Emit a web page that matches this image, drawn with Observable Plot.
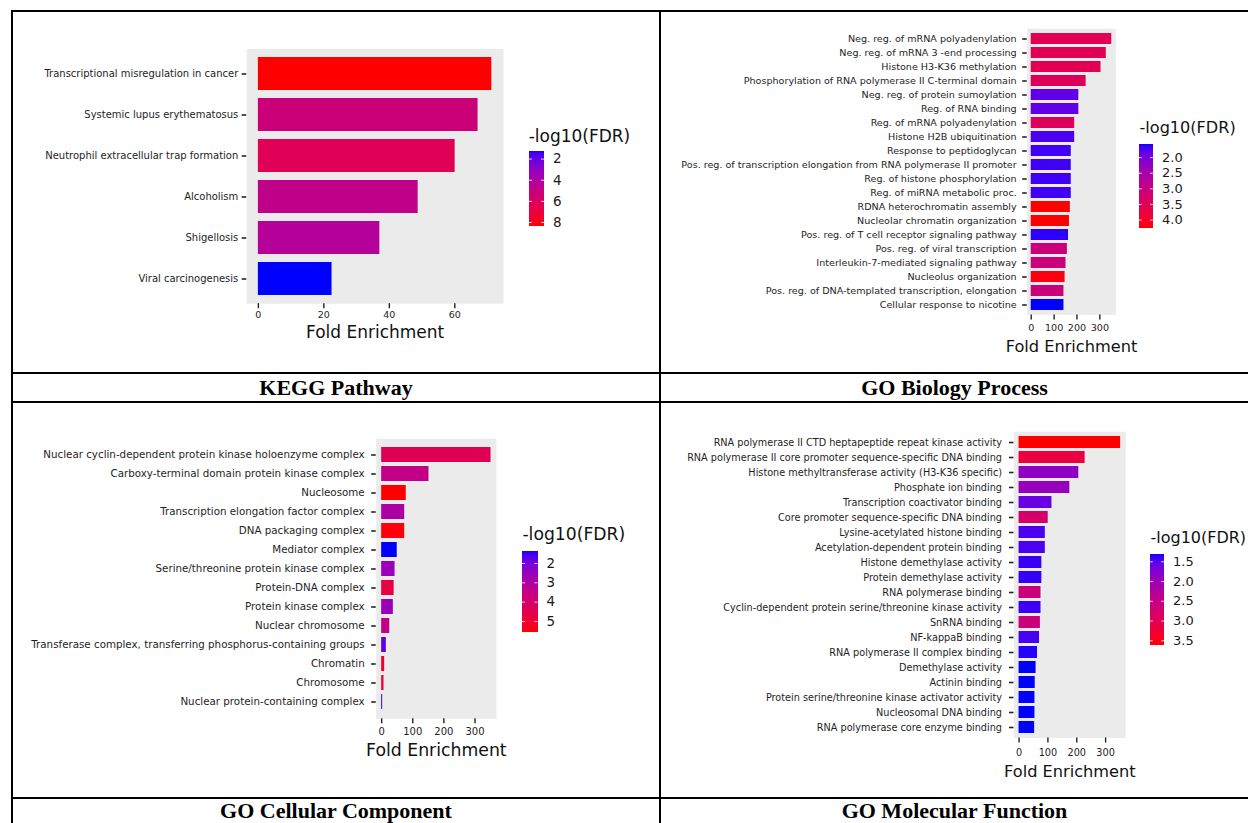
<!DOCTYPE html>
<html>
<head>
<meta charset="utf-8">
<script src="https://cdn.jsdelivr.net/npm/d3@7"></script>
<script src="https://cdn.jsdelivr.net/npm/@observablehq/plot@0.6"></script>
<style>
  html, body { margin: 0; padding: 0; background: #fff; }
  #page { position: relative; width: 1248px; height: 823px; overflow: hidden; background: #fff; }
  .rule { position: absolute; background: #000; }
  .caption { position: absolute; text-align: center; font-family: "Liberation Serif", "Times New Roman", serif;
             font-weight: bold; font-size: 22px; color: #000; }
  #page svg { position: absolute; overflow: visible; }
</style>
</head>
<body>
<div id="page"></div>
<script>
// ---- KEGG pathway enrichment ----
const keggTerms = [
  "Transcriptional misregulation in cancer",
  "Systemic lupus erythematosus",
  "Neutrophil extracellular trap formation",
  "Alcoholism",
  "Shigellosis",
  "Viral carcinogenesis"
];
const keggFold = [71.3, 67.1, 60.1, 48.8, 37.1, 22.5];
const keggFdr = [8.35, 5.3, 6.4, 4.8, 4.3, 1.28];
const keggXTicks = [0, 20, 40, 60];
const keggLegendTicks = [2, 4, 6, 8];

// ---- GO biological process ----
const bpTerms = [
  "Neg. reg. of mRNA polyadenylation",
  "Neg. reg. of mRNA 3 -end processing",
  "Histone H3-K36 methylation",
  "Phosphorylation of RNA polymerase II C-terminal domain",
  "Neg. reg. of protein sumoylation",
  "Reg. of RNA binding",
  "Reg. of mRNA polyadenylation",
  "Histone H2B ubiquitination",
  "Response to peptidoglycan",
  "Pos. reg. of transcription elongation from RNA polymerase II promoter",
  "Reg. of histone phosphorylation",
  "Reg. of miRNA metabolic proc.",
  "RDNA heterochromatin assembly",
  "Nucleolar chromatin organization",
  "Pos. reg. of T cell receptor signaling pathway",
  "Pos. reg. of viral transcription",
  "Interleukin-7-mediated signaling pathway",
  "Nucleolus organization",
  "Pos. reg. of DNA-templated transcription, elongation",
  "Cellular response to nicotine"
];
const bpFold = [352, 328, 305, 240, 208, 208, 190, 190, 175, 175, 175, 175, 171, 167, 163, 158, 152, 148, 143, 143];
const bpFdr = [3.55, 3.55, 3.55, 3.5, 1.85, 1.85, 3.45, 1.75, 1.7, 1.7, 1.7, 1.7, 4.27, 4.27, 1.65, 3.1, 3.1, 4.2, 3.1, 1.59];
const bpXTicks = [0, 100, 200, 300];
const bpLegendTicks = [2.0, 2.5, 3.0, 3.5, 4.0];

// ---- GO cellular component ----
const ccTerms = [
  "Nuclear cyclin-dependent protein kinase holoenzyme complex",
  "Carboxy-terminal domain protein kinase complex",
  "Nucleosome",
  "Transcription elongation factor complex",
  "DNA packaging complex",
  "Mediator complex",
  "Serine/threonine protein kinase complex",
  "Protein-DNA complex",
  "Protein kinase complex",
  "Nuclear chromosome",
  "Transferase complex, transferring phosphorus-containing groups",
  "Chromatin",
  "Chromosome",
  "Nuclear protein-containing complex"
];
const ccFold = [351.5, 152, 79, 74, 74, 50, 43, 40, 37.5, 26, 15, 9.6, 7.5, 3.2];
const ccFdr = [4.4, 3.55, 5.57, 3.0, 5.5, 1.4, 2.6, 4.75, 2.6, 3.5, 1.8, 5.0, 5.0, 1.5];
const ccXTicks = [0, 100, 200, 300];
const ccLegendTicks = [2, 3, 4, 5];

// ---- GO molecular function ----
const mfTerms = [
  "RNA polymerase II CTD heptapeptide repeat kinase activity",
  "RNA polymerase II core promoter sequence-specific DNA binding",
  "Histone methyltransferase activity (H3-K36 specific)",
  "Phosphate ion binding",
  "Transcription coactivator binding",
  "Core promoter sequence-specific DNA binding",
  "Lysine-acetylated histone binding",
  "Acetylation-dependent protein binding",
  "Histone demethylase activity",
  "Protein demethylase activity",
  "RNA polymerase binding",
  "Cyclin-dependent protein serine/threonine kinase activity",
  "SnRNA binding",
  "NF-kappaB binding",
  "RNA polymerase II complex binding",
  "Demethylase activity",
  "Actinin binding",
  "Protein serine/threonine kinase activator activity",
  "Nucleosomal DNA binding",
  "RNA polymerase core enzyme binding"
];
const mfFold = [352, 229, 207, 176, 114, 101, 91, 91, 79, 79, 76, 76, 74, 71, 64, 59, 56, 55, 55, 54];
const mfFdr = [3.61, 3.2, 1.9, 1.95, 1.6, 2.75, 1.47, 1.47, 1.4, 1.4, 2.6, 1.42, 2.6, 1.45, 1.36, 1.33, 1.33, 1.33, 1.33, 1.33];
const mfXTicks = [0, 100, 200, 300];
const mfLegendTicks = [1.5, 2.0, 2.5, 3.0, 3.5];

const captions = ["KEGG Pathway", "GO Biology Process", "GO Cellular Component", "GO Molecular Function"];
const xTitle = "Fold Enrichment";
const legendTitle = "-log10(FDR)";

// ---- page layout (pixel geometry of the grid and each panel) ----
const page = document.getElementById("page");
const FONT = "DejaVu Sans";

function rule(x, y, w, h) {
  const d = document.createElement("div");
  d.className = "rule";
  Object.assign(d.style, {left: x + "px", top: y + "px", width: w + "px", height: h + "px"});
  page.appendChild(d);
}
// table grid lines
rule(11, 10, 1237, 2);
rule(11, 10, 2, 813);
rule(659, 10, 2, 813);
rule(11, 372, 1237, 2);
rule(11, 401, 1237, 2);
rule(11, 797, 1237, 2);

function caption(text, x0, x1, y0, y1) {
  const d = document.createElement("div");
  d.className = "caption";
  Object.assign(d.style, {left: x0 + "px", width: (x1 - x0) + "px", top: y0 + "px",
    height: (y1 - y0) + "px", lineHeight: (y1 - y0) + "px"});
  d.textContent = text;
  page.appendChild(d);
}
caption(captions[0], 13, 659, 374, 401);
caption(captions[1], 661, 1248, 374, 401);
caption(captions[2], 13, 659, 799, 822);
caption(captions[3], 661, 1248, 799, 822);

function place(svg, left, top) {
  svg.style.left = left + "px";
  svg.style.top = top + "px";
  page.appendChild(svg);
}

function drawPanel(terms, fold, fdr, xTicks, legendTicks, legendFormat, g) {
  const rows = terms.map((term, i) => ({term, fold: fold[i], fdr: fdr[i]}));
  const maxFold = d3.max(fold);
  const [lo, hi] = d3.extent(fdr);
  const color = {type: "linear", domain: [lo, hi], range: ["blue", "red"], interpolate: "lab"};

  const width = g.px1 + 4 - g.left;
  const height = g.titleY + 14 - g.top;
  const chart = Plot.plot({
    width, height,
    marginLeft: g.px0 - g.left,
    marginRight: width - (g.px1 - g.left),
    marginTop: g.py0 - g.top,
    marginBottom: height - (g.py1 - g.top),
    style: {fontFamily: FONT, background: "transparent", color: "#222"},
    x: {domain: [-0.05 * maxFold, 1.05 * maxFold], label: null},
    y: {domain: terms, padding: 0.2, label: null},
    color,
    marks: [
      Plot.frame({fill: "#EBEBEB", stroke: "none"}),
      Plot.barX(rows, {y: "term", x: "fold", fill: "fdr"}),
      Plot.axisY({tickSize: 4.5, tickPadding: g.yPad, fontSize: g.yFont, label: null,
        stroke: "#222", strokeWidth: 1.6, fill: "#1e1e1e"}),
      Plot.axisX(xTicks, {tickSize: 5, tickPadding: g.xPad, fontSize: g.xFont, label: null,
        stroke: "#222", strokeWidth: 1.4, fill: "#1e1e1e"}),
      Plot.text([xTitle], {frameAnchor: "bottom", dy: g.titleY - g.py1, lineAnchor: "middle",
        fontSize: g.titleFont, fill: "#111"})
    ]
  });
  place(chart, g.left, g.top);

  // colour bar legend
  const L = g.legend;
  const barW = L.barRight - L.barLeft;
  const lTop = L.titleY - 14;
  const lWidth = Math.max(L.labelLeft - L.barLeft + 30, L.titleLeft - L.barLeft + 110);
  const n = 80;
  const samples = d3.range(n).map(i => [lo + (hi - lo) * i / n, lo + (hi - lo) * (i + 1) / n]);
  const legend = Plot.plot({
    width: lWidth,
    height: L.barBottom + 4 - lTop,
    marginLeft: 0,
    marginRight: lWidth - barW,
    marginTop: L.barTop - lTop,
    marginBottom: 4,
    style: {fontFamily: FONT, background: "transparent", color: "#1a1a1a"},
    y: {domain: [lo, hi], reverse: true, label: null},
    color,
    marks: [
      Plot.rect(samples, {y1: d => d[0], y2: d => d[1], fill: d => (d[0] + d[1]) / 2,
        insetTop: -0.3, insetBottom: -0.3, shapeRendering: "crispEdges"}),
      Plot.tickY(legendTicks, {y: d => d, stroke: "white", strokeWidth: 0.8, insetRight: barW * 0.8}),
      Plot.tickY(legendTicks, {y: d => d, stroke: "white", strokeWidth: 0.8, insetLeft: barW * 0.8}),
      Plot.axisY(legendTicks, {anchor: "right", tickSize: 0, tickPadding: L.labelLeft - L.barRight,
        fontSize: L.labelFont, tickFormat: d3.format(legendFormat), label: null, fill: "#1a1a1a"}),
      Plot.text([legendTitle], {frameAnchor: "top-left", dx: L.titleLeft - L.barLeft, dy: L.titleY - L.barTop,
        textAnchor: "start", lineAnchor: "middle", fontSize: L.titleFont, fill: "#111"})
    ]
  });
  place(legend, L.barLeft, lTop);
}

drawPanel(keggTerms, keggFold, keggFdr, keggXTicks, keggLegendTicks, "d", {
  left: 13, top: 12, px0: 246.2, px1: 503.0, py0: 48.5, py1: 303.2,
  yFont: 10, yPad: 3.9, xFont: 9.5, xPad: 2.8, titleFont: 17, titleY: 331.7,
  legend: {titleLeft: 528.2, titleY: 136, titleFont: 17, barLeft: 529, barRight: 544,
    barTop: 151, barBottom: 225.7, labelLeft: 552.6, labelFont: 13.5}
});
drawPanel(bpTerms, bpFold, bpFdr, bpXTicks, bpLegendTicks, ".1f", {
  left: 661, top: 12, px0: 1026.7, px1: 1115.3, py0: 28.4, py1: 314.4,
  yFont: 9.6, yPad: 6, xFont: 9.6, xPad: 4.2, titleFont: 16.2, titleY: 346.7,
  legend: {titleLeft: 1139.2, titleY: 126.7, titleFont: 16.1, barLeft: 1139.2, barRight: 1153,
    barTop: 144, barBottom: 227.7, labelLeft: 1161.7, labelFont: 13}
});
drawPanel(ccTerms, ccFold, ccFdr, ccXTicks, ccLegendTicks, "d", {
  left: 13, top: 403, px0: 375.7, px1: 496, py0: 438.4, py1: 718.3,
  yFont: 10.3, yPad: 7, xFont: 10, xPad: 4.1, titleFont: 17.3, titleY: 750,
  legend: {titleLeft: 521.9, titleY: 534.3, titleFont: 17.2, barLeft: 522, barRight: 537.5,
    barTop: 551.7, barBottom: 632.3, labelLeft: 545.9, labelFont: 13.5}
});
drawPanel(mfTerms, mfFold, mfFdr, mfXTicks, mfLegendTicks, ".1f", {
  left: 661, top: 403, px0: 1013.5, px1: 1125.2, py0: 431.2, py1: 737.5,
  yFont: 9.7, yPad: 7.5, xFont: 9.7, xPad: 5.8, titleFont: 16.2, titleY: 771.7,
  legend: {titleLeft: 1150.4, titleY: 536.7, titleFont: 16, barLeft: 1150.4, barRight: 1164.3,
    barTop: 554.3, barBottom: 644.3, labelLeft: 1173, labelFont: 13}
});
</script>
</body>
</html>
